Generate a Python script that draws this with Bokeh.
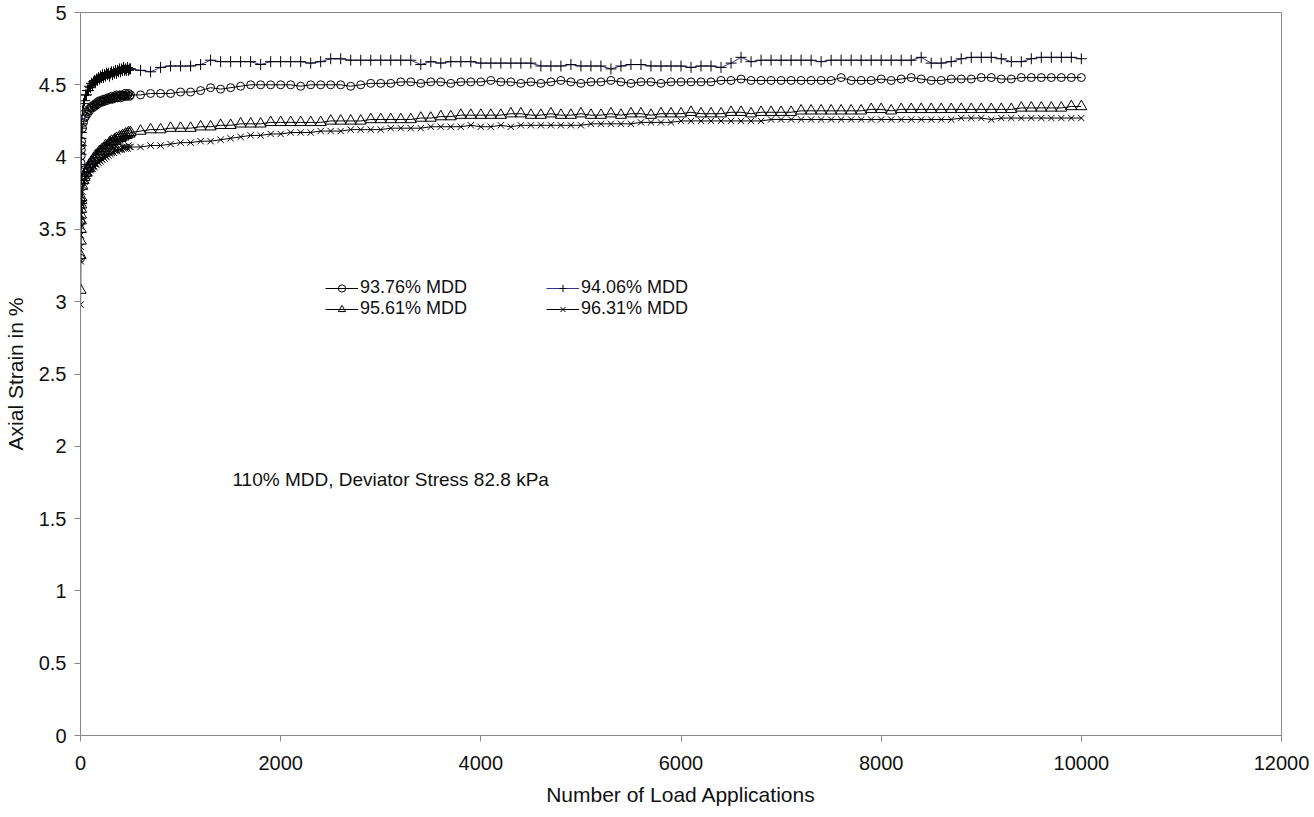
from bokeh.plotting import figure
from bokeh.models import (Range1d, FixedTicker, Legend, LegendItem, Label,
                          ColumnDataSource, CustomJSTickFormatter)
from bokeh.embed import file_html
from bokeh.resources import INLINE

FONT = "Liberation Sans"

# Load cycles: dense sampling over the first 500 applications, then every 100
early_cycles = [1, 2, 3, 4, 5, 6, 7, 8, 9, 10,
                20, 30, 40, 50, 60, 70, 80, 90, 100,
                110, 120, 130, 140, 150, 160, 170, 180, 190, 200,
                210, 220, 230, 240, 250, 260, 270, 280, 290, 300,
                310, 320, 330, 340, 350, 360, 370, 380, 390, 400,
                410, 420, 430, 440, 450, 460, 470, 480, 490, 500]
late_cycles = list(range(600, 10001, 100))
cycles = early_cycles + late_cycles

# Axial strain (%) for each compaction level
strain_9376 = [
    3.30, 3.55, 3.70, 3.82, 3.90, 3.96, 4.01, 4.05, 4.08, 4.11,
    4.20, 4.24, 4.27, 4.28, 4.31, 4.30, 4.33, 4.32, 4.34,
    4.35, 4.34, 4.36, 4.35, 4.37, 4.36, 4.38, 4.37, 4.39, 4.38,
    4.39, 4.38, 4.40, 4.39, 4.40, 4.39, 4.41, 4.40, 4.41, 4.40,
    4.42, 4.40, 4.41, 4.42, 4.41, 4.43, 4.41, 4.42, 4.43, 4.41,
    4.43, 4.42, 4.43, 4.42, 4.44, 4.42, 4.43, 4.44, 4.42, 4.43,
    4.43, 4.44, 4.44, 4.44, 4.45, 4.45, 4.46,
    4.48, 4.47, 4.48, 4.49, 4.50, 4.50, 4.50, 4.50,
    4.50, 4.49, 4.50, 4.50, 4.50, 4.50, 4.49, 4.50, 4.51, 4.51,
    4.51, 4.52, 4.52, 4.51, 4.52, 4.52, 4.51, 4.52, 4.52, 4.52,
    4.53, 4.52, 4.52, 4.51, 4.52, 4.51, 4.52, 4.53, 4.52, 4.51,
    4.52, 4.52, 4.53, 4.52, 4.51, 4.52, 4.52, 4.51, 4.52, 4.52,
    4.52, 4.52, 4.52, 4.53, 4.53, 4.54, 4.53, 4.53, 4.53, 4.53,
    4.53, 4.53, 4.53, 4.53, 4.53, 4.55, 4.53, 4.53, 4.53, 4.54,
    4.53, 4.54, 4.55, 4.54, 4.53, 4.53, 4.54, 4.54, 4.54, 4.55,
    4.55, 4.54, 4.54, 4.55, 4.55, 4.55, 4.55, 4.55, 4.55, 4.55,
]
strain_9406 = [
    3.48, 3.70, 3.85, 3.95, 4.02, 4.08, 4.13, 4.17, 4.20, 4.23,
    4.32, 4.37, 4.39, 4.43, 4.43, 4.46, 4.46, 4.49, 4.48,
    4.51, 4.50, 4.52, 4.53, 4.52, 4.54, 4.53, 4.55, 4.54, 4.56,
    4.55, 4.57, 4.55, 4.57, 4.56, 4.58, 4.57, 4.58, 4.56, 4.58,
    4.59, 4.57, 4.59, 4.58, 4.60, 4.58, 4.60, 4.59, 4.61, 4.59,
    4.61, 4.60, 4.62, 4.60, 4.61, 4.60, 4.62, 4.60, 4.61, 4.61,
    4.60, 4.59, 4.62, 4.63, 4.63, 4.63, 4.64,
    4.67, 4.66, 4.66, 4.66, 4.66, 4.64, 4.66, 4.66,
    4.66, 4.66, 4.65, 4.66, 4.68, 4.68, 4.67, 4.67, 4.67, 4.67,
    4.67, 4.67, 4.67, 4.64, 4.66, 4.65, 4.66, 4.66, 4.66, 4.65,
    4.65, 4.65, 4.65, 4.65, 4.65, 4.63, 4.63, 4.63, 4.64, 4.63,
    4.63, 4.63, 4.61, 4.63, 4.64, 4.64, 4.63, 4.63, 4.63, 4.63,
    4.62, 4.63, 4.63, 4.62, 4.65, 4.69, 4.66, 4.67, 4.67, 4.67,
    4.67, 4.67, 4.67, 4.66, 4.67, 4.67, 4.67, 4.67, 4.67, 4.67,
    4.67, 4.67, 4.67, 4.69, 4.65, 4.65, 4.66, 4.68, 4.69, 4.69,
    4.69, 4.68, 4.66, 4.66, 4.68, 4.69, 4.69, 4.69, 4.69, 4.68,
]
strain_9561 = [
    3.08, 3.32, 3.42, 3.50, 3.56, 3.60, 3.64, 3.67, 3.70, 3.72,
    3.80, 3.84, 3.86, 3.89, 3.89, 3.92, 3.92, 3.95, 3.94,
    3.97, 3.96, 3.99, 3.98, 4.01, 4.00, 4.02, 4.02, 4.04, 4.03,
    4.05, 4.04, 4.06, 4.06, 4.08, 4.07, 4.08, 4.08, 4.10, 4.09,
    4.11, 4.10, 4.11, 4.12, 4.11, 4.13, 4.12, 4.13, 4.14, 4.13,
    4.14, 4.15, 4.14, 4.15, 4.16, 4.15, 4.16, 4.17, 4.16, 4.17,
    4.18, 4.19, 4.19, 4.20, 4.20, 4.20, 4.21,
    4.21, 4.22, 4.22, 4.23, 4.23, 4.23, 4.24, 4.24,
    4.24, 4.24, 4.24, 4.24, 4.25, 4.25, 4.25, 4.25, 4.26, 4.26,
    4.26, 4.26, 4.26, 4.27, 4.27, 4.28, 4.28, 4.29, 4.29, 4.29,
    4.29, 4.29, 4.30, 4.30, 4.29, 4.29, 4.30, 4.29, 4.29, 4.30,
    4.29, 4.29, 4.30, 4.29, 4.30, 4.30, 4.29, 4.30, 4.30, 4.30,
    4.31, 4.30, 4.30, 4.30, 4.31, 4.31, 4.30, 4.31, 4.31, 4.31,
    4.31, 4.32, 4.32, 4.32, 4.32, 4.32, 4.32, 4.32, 4.33, 4.33,
    4.32, 4.33, 4.33, 4.33, 4.33, 4.33, 4.33, 4.33, 4.33, 4.33,
    4.33, 4.33, 4.33, 4.34, 4.34, 4.34, 4.34, 4.34, 4.35, 4.35,
]
strain_9631 = [
    2.98, 3.28, 3.38, 3.46, 3.52, 3.56, 3.60, 3.63, 3.66, 3.68,
    3.76, 3.80, 3.83, 3.84, 3.87, 3.87, 3.90, 3.89, 3.91,
    3.92, 3.92, 3.94, 3.93, 3.95, 3.95, 3.97, 3.96, 3.98, 3.97,
    3.99, 3.98, 4.00, 3.99, 4.01, 4.00, 4.02, 4.01, 4.03, 4.02,
    4.03, 4.04, 4.03, 4.05, 4.04, 4.05, 4.04, 4.06, 4.05, 4.06,
    4.05, 4.07, 4.06, 4.07, 4.06, 4.07, 4.06, 4.08, 4.07, 4.07,
    4.07, 4.08, 4.08, 4.09, 4.10, 4.10, 4.11,
    4.11, 4.12, 4.13, 4.14, 4.15, 4.15, 4.16, 4.16,
    4.17, 4.17, 4.17, 4.18, 4.18, 4.18, 4.19, 4.19, 4.19, 4.19,
    4.20, 4.20, 4.20, 4.20, 4.21, 4.21, 4.21, 4.21, 4.22, 4.21,
    4.21, 4.22, 4.21, 4.22, 4.22, 4.22, 4.22, 4.22, 4.22, 4.22,
    4.23, 4.23, 4.23, 4.23, 4.23, 4.24, 4.24, 4.24, 4.24, 4.25,
    4.25, 4.25, 4.25, 4.25, 4.25, 4.25, 4.25, 4.25, 4.26, 4.26,
    4.26, 4.26, 4.26, 4.26, 4.26, 4.26, 4.26, 4.26, 4.26, 4.26,
    4.26, 4.26, 4.26, 4.26, 4.26, 4.26, 4.26, 4.27, 4.27, 4.27,
    4.26, 4.27, 4.27, 4.27, 4.27, 4.27, 4.27, 4.27, 4.27, 4.27,
]

series_labels = ["93.76% MDD", "94.06% MDD", "95.61% MDD", "96.31% MDD"]
x_ticks = [0, 2000, 4000, 6000, 8000, 10000, 12000]
y_ticks = [0, 0.5, 1, 1.5, 2, 2.5, 3, 3.5, 4, 4.5, 5]

source = ColumnDataSource(dict(n=cycles, s9376=strain_9376, s9406=strain_9406,
                               s9561=strain_9561, s9631=strain_9631))

p = figure(width=1314, height=817, output_backend="svg", toolbar_location=None,
           x_range=Range1d(0, 12000), y_range=Range1d(0, 5),
           min_border_left=80, min_border_right=33, min_border_top=12,
           min_border_bottom=82, background_fill_color="white",
           border_fill_color="white")

p.xgrid.grid_line_color = None
p.ygrid.grid_line_color = None
p.outline_line_color = "#888888"
p.outline_line_width = 1

axis_grey = "#888888"
fmt = CustomJSTickFormatter(code="return tick.toString();")
for ax, ticks in ((p.xaxis, x_ticks), (p.yaxis, y_ticks)):
    ax.ticker = FixedTicker(ticks=ticks)
    ax.formatter = fmt
    ax.axis_line_color = axis_grey
    ax.major_tick_line_color = axis_grey
    ax.major_tick_out = 6
    ax.major_tick_in = 0
    ax.minor_tick_line_color = None
    ax.major_label_text_font = FONT
    ax.major_label_text_font_size = "20px"
    ax.major_label_text_color = "#111111"
    ax.axis_label_text_font = FONT
    ax.axis_label_text_font_size = "21px"
    ax.axis_label_text_font_style = "normal"
    ax.axis_label_text_color = "#111111"

p.xaxis.axis_label = "Number of Load Applications"
p.xaxis.major_label_standoff = 14
p.xaxis.axis_label_standoff = 10
p.yaxis.axis_label = "Axial Strain in %"
p.yaxis.major_label_standoff = 8
p.yaxis.axis_label_standoff = 9

# Curves: line plus hollow markers
l1 = p.line("n", "s9376", source=source, line_color="black", line_width=1)
m1 = p.scatter("n", "s9376", source=source, marker="circle", size=8,
               line_color="black", fill_alpha=0)
l2 = p.line("n", "s9406", source=source, line_color="#333399", line_width=1)
m2 = p.scatter("n", "s9406", source=source, marker="cross", size=11,
               line_color="black")
l3 = p.line("n", "s9561", source=source, line_color="black", line_width=1)
m3 = p.scatter("n", "s9561", source=source, marker="triangle", size=11,
               line_color="black", fill_alpha=0)
l4 = p.line("n", "s9631", source=source, line_color="black", line_width=1)
m4 = p.scatter("n", "s9631", source=source, marker="x", size=9,
               line_color="black")


def make_legend(items, loc):
    leg = Legend(items=items, location=loc, orientation="vertical",
                 background_fill_alpha=0, border_line_color=None,
                 padding=0, margin=0, spacing=0, glyph_width=33,
                 glyph_height=18, label_height=18, label_standoff=2,
                 label_text_font=FONT, label_text_font_size="18px",
                 label_text_color="#111111")
    p.add_layout(leg)


make_legend([LegendItem(label=series_labels[0], renderers=[l1, m1]),
             LegendItem(label=series_labels[2], renderers=[l3, m3])], (245, 416))
make_legend([LegendItem(label=series_labels[1], renderers=[l2, m2]),
             LegendItem(label=series_labels[3], renderers=[l4, m4])], (466, 416))

p.add_layout(Label(x=1518, y=1.77, text="110% MDD, Deviator Stress 82.8 kPa",
                   text_font=FONT, text_font_size="19px", text_color="#111111",
                   text_baseline="middle", text_align="left"))

open("out.html", "w").write(file_html(p, INLINE))
